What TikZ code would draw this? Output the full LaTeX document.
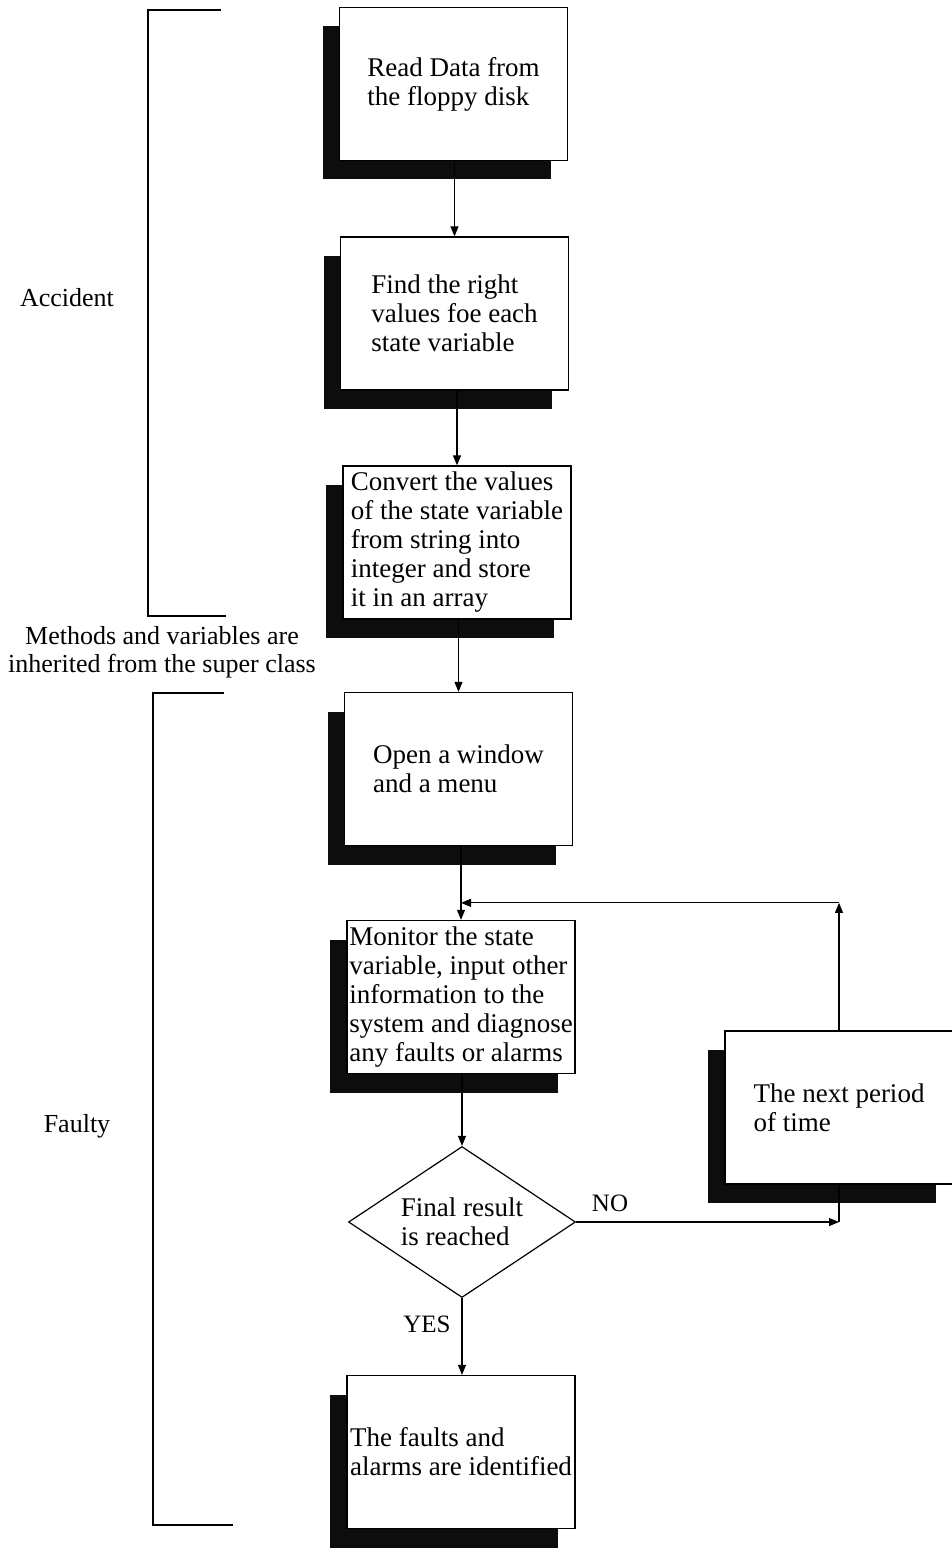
\documentclass[tikz,border=0pt]{standalone}
\usepackage{fontspec}
\setmainfont{Liberation Serif}
\usetikzlibrary{shapes.geometric,shadows,arrows.meta}
\tikzset{%
  flow box/.style={
    draw, line width=1.3pt, fill=white, align=left,
    minimum width=228pt, minimum height=153pt, inner sep=3pt,
    font=\fontsize{27}{29}\selectfont,
    drop shadow={shadow xshift=-17pt, shadow yshift=-19pt,
      fill=black!95, opacity=1}},
  flow test/.style={
    draw, line width=1.2pt, diamond, aspect=1.5, align=left,
    minimum width=227pt, minimum height=151pt, inner sep=1pt,
    font=\fontsize{27}{29}\selectfont},
  flow line/.style={line width=1.1pt, -{Triangle[length=10pt,width=8pt]}},
  side label/.style={font=\fontsize{26}{28}\selectfont, align=center},
  answer label/.style={font=\fontsize{25}{27}\selectfont},
  bracket/.style={line width=1.4pt}
}

\begin{document}
\begin{tikzpicture}[x=1pt, y=-1pt]
		\useasboundingbox (0,0) rectangle (952,1549);
		\node [flow box] (read) at (453.5,84) {Read Data from\\the floppy disk};
		\node [flow box] (find) at (454.5,313.5) {Find the right\\values foe each\\state variable};
		\node [flow box] (convert) at (457,542.5)
		  {Convert the values\\of the state variable\\from string into\\integer and store\\it in an array};
		\node [flow box] (window) at (458.5,769) {Open a window\\and a menu};
		\node [flow box, inner xsep=2pt] (monitor) at (461,997)
		  {Monitor the state\\variable, input other\\information to the\\system and diagnose\\any faults or alarms};
		\node [flow test] (result) at (462,1222) {Final result\\is reached};
		\node [flow box] (period) at (839,1107.5) {The next period\\of time};
		\node [flow box] (identified) at (461,1452) {The faults and\\alarms are identified};
		\coordinate (join) at ([yshift=17pt]monitor.north);
		\coordinate (nocorner) at (result.east -| period.south);
		\coordinate (upcorner) at (join -| period.north);
		\draw [flow line] (read.south -| find.north) -- (find.north);
		\draw [flow line] (find.south -| convert.north) -- (convert.north);
		\draw [flow line] (convert.south -| window.north) -- (window.north);
		\draw [flow line] (window.south -| join) -- (join) -- (monitor.north);
		\draw [flow line] (monitor.south -| result.north) -- (result.north);
		\draw [flow line] (result.south) -- (identified.north -| result.south);
		\draw [flow line] (result.east) -- (nocorner);
		\draw [line width=1.1pt] (nocorner) -- (period.south);
		\draw [flow line] (period.north) -- (upcorner);
		\draw [flow line] (upcorner) -- (join);
		\node [answer label] (yes) at (427,1324) {YES};
		\node [answer label] (no) at (610,1203) {NO};
		\draw [bracket] (221,10) -- (148,10) -- (148,616) -- (226,616);
		\draw [bracket] (224,693) -- (153,693) -- (153,1525) -- (233,1525);
		\node [side label] (accident) at (67,298) {Accident};
		\node [side label] (faulty) at (77,1126) {Faulty};
		\node [side label] (inherit) at (162,652) {Methods and variables are\\inherited from the super class};
	\end{tikzpicture}
\end{document}
